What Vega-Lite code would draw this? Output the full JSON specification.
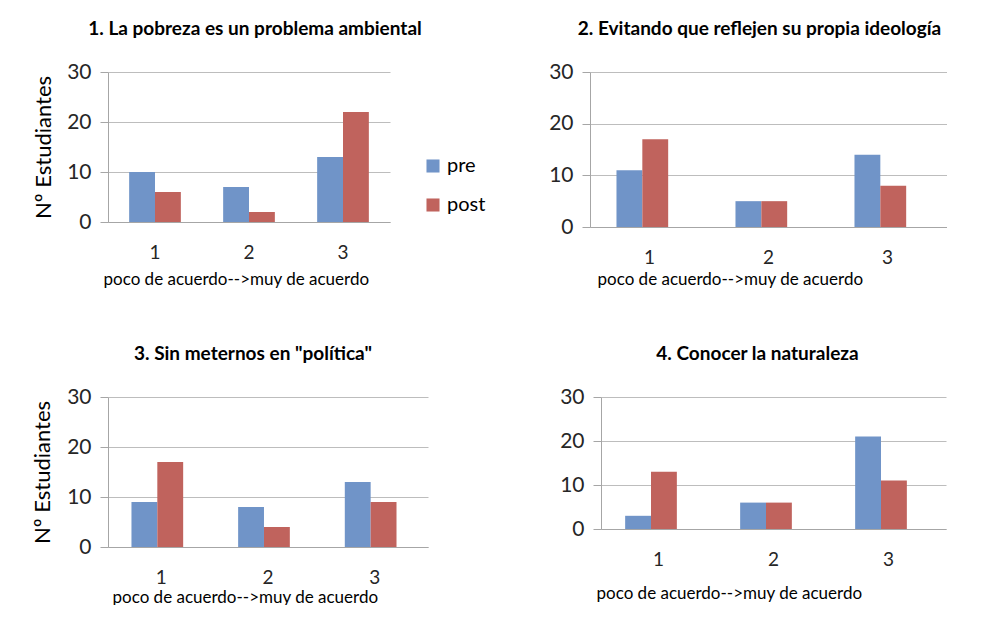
{
  "$schema": "https://vega.github.io/schema/vega-lite/v6.json",
  "padding": {"left": 31, "top": 20, "right": 0, "bottom": 0},
  "background": "white",
  "config": {
    "font": "Lato",
    "view": {"stroke": null},
    "axis": {"domainColor": "#A6A6A6", "gridColor": "#BDBDBD", "tickColor": "#A6A6A6", "labelColor": "#262626", "titleColor": "#000000", "labelFont": "Lato", "titleFont": "Lato", "titleFontWeight": "normal"},
    "axisY": {"labelFontSize": 21, "tickSize": 8, "labelPadding": 9, "titleFontSize": 22, "grid": true, "domain": true, "values": [0, 10, 20, 30]},
    "axisX": {"labelFontSize": 19, "titleFontSize": 17, "ticks": false, "grid": false, "labelAngle": 0, "labelPadding": 21, "titleAnchor": "start"},
    "title": {"fontSize": 19, "fontWeight": "bold", "font": "Lato", "color": "#000000", "frame": "group", "offset": 22},
    "legend": {"labelFontSize": 20, "symbolType": "square", "symbolSize": 170, "rowPadding": 19, "labelColor": "#000000", "symbolStrokeWidth": 0}
  },
  "datasets": {
    "d": [
      {"q": 1, "cat": "1", "series": "pre", "n": 10},
      {"q": 1, "cat": "1", "series": "post", "n": 6},
      {"q": 1, "cat": "2", "series": "pre", "n": 7},
      {"q": 1, "cat": "2", "series": "post", "n": 2},
      {"q": 1, "cat": "3", "series": "pre", "n": 13},
      {"q": 1, "cat": "3", "series": "post", "n": 22},
      {"q": 2, "cat": "1", "series": "pre", "n": 11},
      {"q": 2, "cat": "1", "series": "post", "n": 17},
      {"q": 2, "cat": "2", "series": "pre", "n": 5},
      {"q": 2, "cat": "2", "series": "post", "n": 5},
      {"q": 2, "cat": "3", "series": "pre", "n": 14},
      {"q": 2, "cat": "3", "series": "post", "n": 8},
      {"q": 3, "cat": "1", "series": "pre", "n": 9},
      {"q": 3, "cat": "1", "series": "post", "n": 17},
      {"q": 3, "cat": "2", "series": "pre", "n": 8},
      {"q": 3, "cat": "2", "series": "post", "n": 4},
      {"q": 3, "cat": "3", "series": "pre", "n": 13},
      {"q": 3, "cat": "3", "series": "post", "n": 9},
      {"q": 4, "cat": "1", "series": "pre", "n": 3},
      {"q": 4, "cat": "1", "series": "post", "n": 13},
      {"q": 4, "cat": "2", "series": "pre", "n": 6},
      {"q": 4, "cat": "2", "series": "post", "n": 6},
      {"q": 4, "cat": "3", "series": "pre", "n": 21},
      {"q": 4, "cat": "3", "series": "post", "n": 11}
    ]
  },
  "spacing": 58,
  "vconcat": [
    {
      "spacing": 126,
      "hconcat": [
        {
          "data": {"name": "d"},
          "transform": [{"filter": "datum.q == 1"}],
          "title": {"text": "1. La pobreza es un problema ambiental", "dx": 6},
          "width": 282,
          "height": 150,
          "mark": "bar",
          "encoding": {
            "x": {"field": "cat", "type": "nominal", "scale": {"paddingInner": 0.45, "paddingOuter": 0.225}, "axis": {"title": "poco de acuerdo-->muy de acuerdo", "titlePadding": 9, "titleX": -5}},
            "xOffset": {"field": "series", "type": "nominal", "sort": ["pre", "post"]},
            "y": {"field": "n", "type": "quantitative", "scale": {"domain": [0, 30]}, "axis": {"title": "Nº Estudiantes", "titlePadding": 11}},
            "color": {"field": "series", "type": "nominal", "scale": {"domain": ["pre", "post"], "range": ["#7094C8", "#C0635D"]}, "legend": {"title": null, "orient": "none", "legendX": 315, "legendY": 84}}
          }
        },
        {
          "data": {"name": "d"},
          "transform": [{"filter": "datum.q == 2"}],
          "title": {"text": "2. Evitando que reflejen su propia ideología", "dx": -9},
          "width": 357,
          "height": 155,
          "mark": "bar",
          "encoding": {
            "x": {"field": "cat", "type": "nominal", "scale": {"paddingInner": 0.445, "paddingOuter": 0.2225}, "axis": {"title": "poco de acuerdo-->muy de acuerdo", "titlePadding": 4, "titleX": 7}},
            "xOffset": {"field": "series", "type": "nominal", "sort": ["pre", "post"]},
            "y": {"field": "n", "type": "quantitative", "scale": {"domain": [0, 30]}, "axis": {"title": null}},
            "color": {"field": "series", "type": "nominal", "scale": {"domain": ["pre", "post"], "range": ["#7094C8", "#C0635D"]}, "legend": null}
          }
        }
      ]
    },
    {
      "spacing": 131,
      "hconcat": [
        {
          "data": {"name": "d"},
          "transform": [{"filter": "datum.q == 3"}],
          "title": {"text": "3. Sin meternos en \"política\"", "dx": -15},
          "width": 320,
          "height": 150,
          "mark": "bar",
          "encoding": {
            "x": {"field": "cat", "type": "nominal", "scale": {"paddingInner": 0.44, "paddingOuter": 0.22}, "axis": {"title": "poco de acuerdo-->muy de acuerdo", "titlePadding": 2, "titleX": 4}},
            "xOffset": {"field": "series", "type": "nominal", "sort": ["pre", "post"]},
            "y": {"field": "n", "type": "quantitative", "scale": {"domain": [0, 30]}, "axis": {"title": "Nº Estudiantes", "titlePadding": 12}},
            "color": {"field": "series", "type": "nominal", "scale": {"domain": ["pre", "post"], "range": ["#7094C8", "#C0635D"]}, "legend": null}
          }
        },
        {
          "data": {"name": "d"},
          "transform": [{"filter": "datum.q == 4"}],
          "title": {"text": "4. Conocer la naturaleza", "dx": -16},
          "width": 345,
          "height": 132,
          "mark": "bar",
          "encoding": {
            "x": {"field": "cat", "type": "nominal", "scale": {"paddingInner": 0.42, "paddingOuter": 0.21}, "axis": {"title": "poco de acuerdo-->muy de acuerdo", "titlePadding": 16, "titleX": -5}},
            "xOffset": {"field": "series", "type": "nominal", "sort": ["pre", "post"]},
            "y": {"field": "n", "type": "quantitative", "scale": {"domain": [0, 30]}, "axis": {"title": null}},
            "color": {"field": "series", "type": "nominal", "scale": {"domain": ["pre", "post"], "range": ["#7094C8", "#C0635D"]}, "legend": null}
          }
        }
      ]
    }
  ]
}
